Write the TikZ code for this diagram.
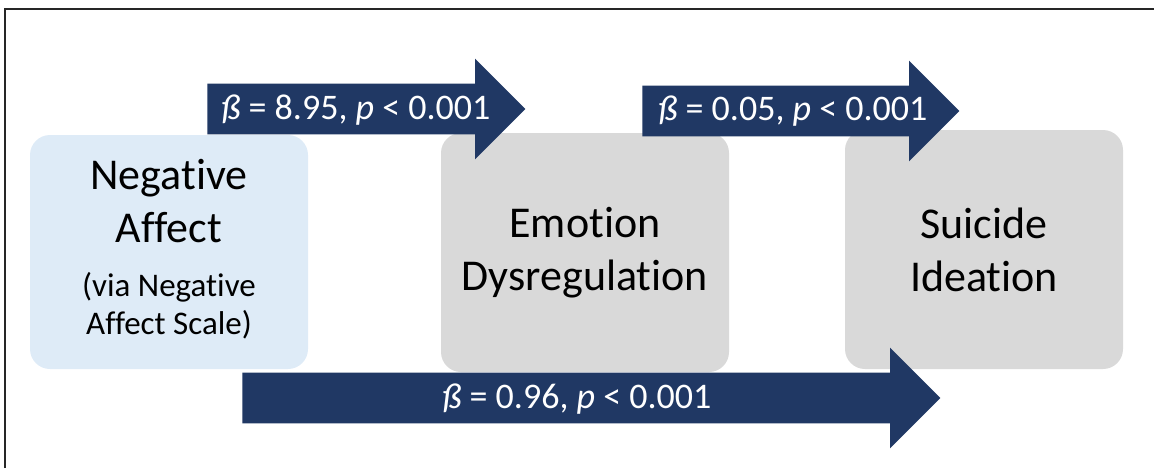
\documentclass[tikz,border=0pt]{standalone}
\usepackage{fontspec}
\setmainfont{Carlito}[Ligatures = NoCommon]
\usetikzlibrary{shapes.arrows}
\usetikzlibrary{positioning}

\definecolor{navy}{HTML}{203864}
\definecolor{paleblue}{HTML}{DEEBF7}
\definecolor{lightgrey}{HTML}{D9D9D9}
\definecolor{framegrey}{HTML}{262626}

\begin{document}
\begin{tikzpicture}[x = 0.5pt, y = -0.5pt,
						box/.style = {rectangle, rounded corners = 10pt, inner sep = 0pt, align = center, font = \fontsize{22}{26.5}\selectfont},
						neg box/.style = {box, fill = paleblue, minimum width = 139pt, minimum height = 117pt},
						grey box/.style = {box, fill = lightgrey, minimum height = 119.5pt},
						note/.style = {align = center, inner sep = 0pt, font = \fontsize{16.5}{19}\selectfont},
						block/.style = {single arrow, fill = navy, inner sep = 0pt, text width = 0pt, text height = 25pt, text depth = 0pt,
							single arrow head extend = 12.5pt, single arrow tip angle = 90, anchor = tail},
						beta/.style = {text = white, inner sep = 0pt, font = \fontsize{18}{21}\selectfont}]
		\useasboundingbox (0,0) rectangle (1154,468);
		\draw[framegrey, line width = 1pt] (5,468) -- (5,9) -- (1154,9);

		\node[neg box] (neg) at (169,252) {};
		\node[box] (negtitle) at (169,201) {Negative\\Affect};
		\node[note] (negnote) at (169,306) {(via Negative\\Affect Scale)};
		\node[grey box, minimum width = 144pt] (emo) at (585,252.5) {Emotion\\Dysregulation};
		\node[grey box, minimum width = 139pt] (sui) at (984,249.5) {Suicide\\Ideation};

		\node[block, minimum height = 159pt] (negemo) at (207,109) {};
		\node[beta] (negemolabel) at (356,110) {\textit{ß} = 8.95, \textit{p} < 0.001};
		\node[block, minimum height = 158.5pt] (emosui) at (642,111) {};
		\node[beta] (emosuilabel) at (793,111) {\textit{ß} = 0.05, \textit{p} < 0.001};
		\node[block, minimum height = 349pt] (negsui) at (242,398) {};
		\node[beta] (negsuilabel) at (577,399) {\textit{ß} = 0.96, \textit{p} < 0.001};

	\end{tikzpicture}
\end{document}
